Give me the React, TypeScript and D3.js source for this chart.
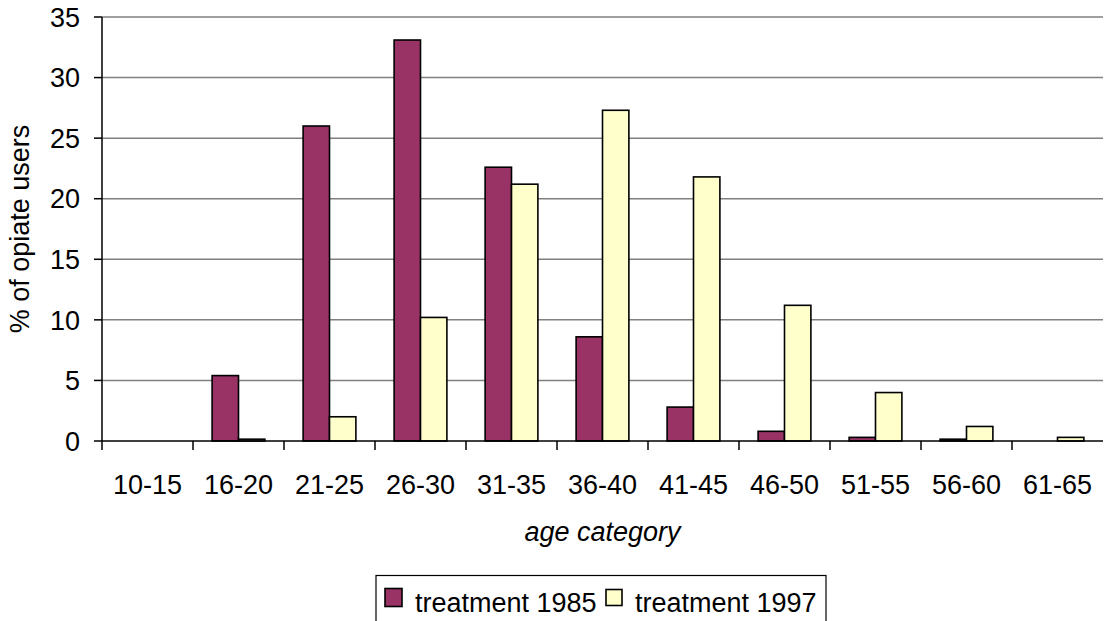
import * as d3 from 'd3';
import { useEffect } from 'react';

const categories = ['10-15', '16-20', '21-25', '26-30', '31-35', '36-40', '41-45', '46-50', '51-55', '56-60', '61-65'];
const treatment1985 = [0, 5.4, 26.0, 33.1, 22.6, 8.6, 2.8, 0.8, 0.3, 0.15, 0];
const treatment1997 = [0, 0.15, 2.0, 10.2, 21.2, 27.3, 21.8, 11.2, 4.0, 1.2, 0.3];
const yTicks = [0, 5, 10, 15, 20, 25, 30, 35];

const seriesNames = ['treatment 1985', 'treatment 1997'];
const seriesColors = ['#993366', '#FFFFCC'];

const W = 1104;
const H = 621;
const margin = { top: 17, right: 1, bottom: 180, left: 102 };
const FONT = '"Liberation Sans", Arial, sans-serif';
const FS = 27;

export default function App() {
  useEffect(() => {
    document.body.style.margin = '0';
  }, []);

  const innerW = W - margin.left - margin.right;
  const innerH = H - margin.top - margin.bottom;

  const x0 = d3.scaleBand<string>().domain(categories).range([0, innerW]).padding(0);
  const bw = x0.bandwidth();
  const groupW = bw * 0.58;
  const x1 = d3
    .scaleBand<string>()
    .domain(seriesNames)
    .range([(bw - groupW) / 2, (bw + groupW) / 2])
    .padding(0);
  const y = d3.scaleLinear().domain([0, 35]).range([innerH, 0]);

  const rows = categories.map((c, i) => ({ cat: c, vals: [treatment1985[i], treatment1997[i]] }));

  return (
    <svg width={W} height={H} style={{ display: 'block', fontFamily: FONT }}>
      <rect width={W} height={H} fill="#fff" />
      <g transform={`translate(${margin.left},${margin.top})`}>
        {/* gridlines */}
        {yTicks.filter(t => t > 0).map(t => (
          <line key={t} x1={0} x2={innerW} y1={y(t)} y2={y(t)} stroke="#808080" strokeWidth={1.5} />
        ))}

        {/* bars */}
        {rows.map(r => (
          <g key={r.cat} transform={`translate(${x0(r.cat)},0)`}>
            {r.vals.map((v, j) =>
              v > 0 ? (
                <rect
                  key={j}
                  x={x1(seriesNames[j])}
                  y={y(v)}
                  width={x1.bandwidth()}
                  height={innerH - y(v)}
                  fill={seriesColors[j]}
                  stroke="#000"
                  strokeWidth={1.6}
                />
              ) : null
            )}
          </g>
        ))}

        {/* y axis */}
        <line x1={0} x2={0} y1={0} y2={innerH} stroke="#000" strokeWidth={1.5} />
        {yTicks.map(t => (
          <g key={t} transform={`translate(0,${y(t)})`}>
            <line x1={-8} x2={0} stroke="#000" strokeWidth={1.5} />
            <text x={-22} dy="0.36em" textAnchor="end" fontSize={FS} fill="#000">
              {t}
            </text>
          </g>
        ))}

        {/* x axis */}
        <line x1={0} x2={innerW} y1={innerH} y2={innerH} stroke="#000" strokeWidth={1.5} />
        {categories.map(c => (
          <g key={c} transform={`translate(${x0(c)},${innerH})`}>
            <line y1={0} y2={9} stroke="#000" strokeWidth={1.5} />
            <text x={bw / 2} y={53} textAnchor="middle" fontSize={FS} fill="#000">
              {c}
            </text>
          </g>
        ))}

        <text x={innerW / 2} y={innerH + 100} textAnchor="middle" fontSize={FS} fontStyle="italic" fill="#000">
          age category
        </text>

        <text
          transform={`translate(${-73},${innerH / 2}) rotate(-90)`}
          textAnchor="middle"
          fontSize={FS}
          fill="#000"
        >
          % of opiate users
        </text>
      </g>

      {/* legend */}
      <g transform="translate(376,575.5)">
        <rect x={0} y={0} width={450} height={60} fill="#fff" stroke="#000" strokeWidth={1.2} />
        <rect x={9} y={13} width={17} height={18} fill={seriesColors[0]} stroke="#000" strokeWidth={1.6} />
        <text x={39} y={36} fontSize={FS} fill="#000">
          {seriesNames[0]}
        </text>
        <rect x={230} y={14} width={16} height={16} fill={seriesColors[1]} stroke="#000" strokeWidth={1.6} />
        <text x={259} y={36} fontSize={FS} fill="#000">
          {seriesNames[1]}
        </text>
      </g>
    </svg>
  );
}
